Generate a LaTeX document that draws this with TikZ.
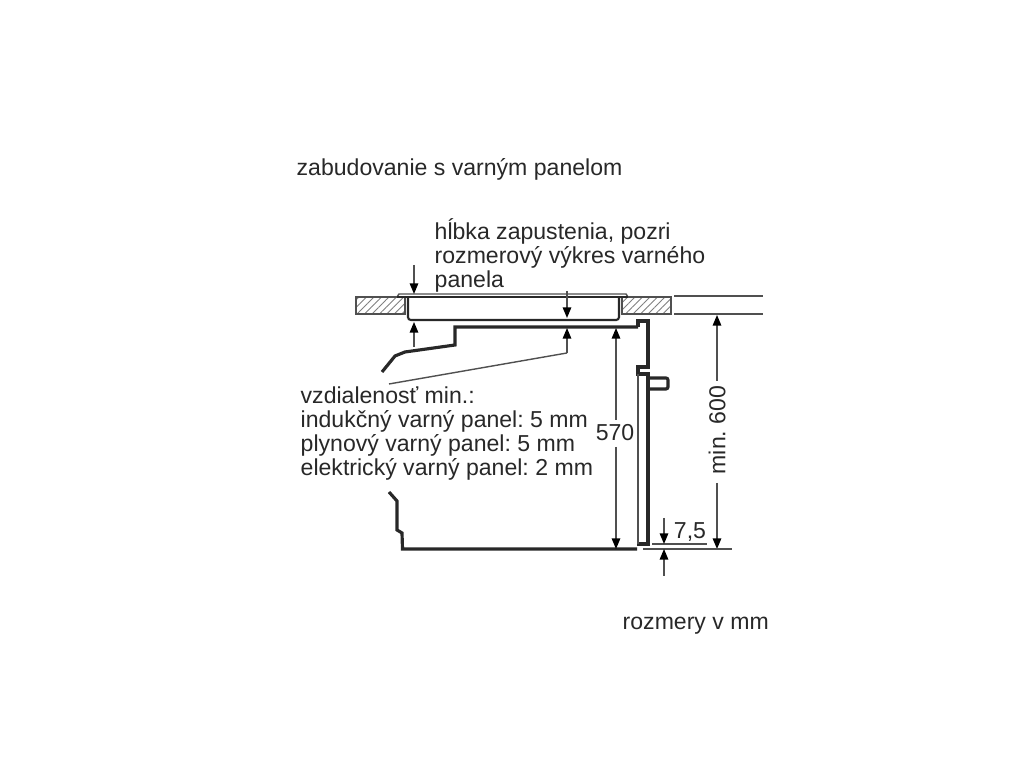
\documentclass[tikz,border=0pt]{standalone}
\usepackage{fontspec}
\setmainfont{Liberation Sans}
\usepackage{tikz}
\usetikzlibrary{arrows.meta,patterns.meta}
\definecolor{ink}{RGB}{40,40,40}
\definecolor{dimgrey}{RGB}{80,80,80}
\newcommand{\drawthick}{\draw[ink,line width=0.9pt]}
\newcommand{\drawmedium}{\draw[ink,line width=0.6pt]}
\newcommand{\drawthin}{\draw[dimgrey,line width=0.4pt]}
\newcommand{\drawdim}{\draw[dimgrey,line width=0.4pt,-{Triangle[black,length=3pt,width=2.4pt]}]}
\newcommand{\hatchbox}[4]{
    \fill[pattern={Lines[angle=45,distance=1.5pt,line width=0.25pt]},pattern color=gray] (#1,#2) rectangle (#3,#4);
    \draw[dimgrey,line width=0.4pt] (#1,#2) rectangle (#3,#4);
}
\tikzset{
  caption/.style={font=\fontsize{6.56}{6.8}\selectfont\frenchspacing,text=ink,inner sep=0pt,align=left},
}
\begin{document}
\begin{tikzpicture}[x=0.01cm,y=-0.01cm]
\useasboundingbox (0,0) rectangle (1024,768);
\fill[white] (0,0) rectangle (1024,768);
% worktop
\hatchbox{356}{297}{405}{314}
\hatchbox{622}{297}{671}{314}
\drawthin (674,296)--(763,296);
\drawthin (674,314)--(763,314);
% hob
\drawthin (397,297)--(399,294)--(626,294)--(628,297);
\drawmedium (397,297)--(628,297);
\drawmedium[rounded corners=0.8pt] (408,297)--(408,320)--(619,320)--(619,297);
% oven
\drawthick (382,372)--(395,356)--(405,352)--(455,345)--(455,327)--(638,327);
\drawthick (389,492)--(397,501)--(397,530)--(402,533)--(402.5,549)--(637,549);
\drawthick (638,327)--(638,321)--(648,321)--(648,367)--(638,367)--(638,374)--(648,374)--(648,544)--(637,544);
\drawthin (638,374)--(638,544);
\drawthick[rounded corners=0.6pt] (648,378)--(668,378)--(668,389)--(648,389);
% dimensions
\drawdim (414,265)--(414,294);
\drawdim (414,347)--(414,322);
\drawdim (567,291)--(567,318);
\drawdim (567,353)--(567,328);
\drawthin (567,353)--(389,384);
\drawdim (616,420)--(616,328);
\drawdim (616,447)--(616,549);
\drawdim (717,381)--(717,315);
\drawdim (717,483)--(717,549);
\drawthin (643,549)--(732,549);
\drawthin (652,544)--(707,544);
\drawdim (664,518)--(664,544);
\drawdim (664,576)--(664,549);
% texts
\node[caption,anchor=west] (title) at (296,169) {zabudovanie s varným panelom};
\node[caption,anchor=north west] (depth) at (434,218) {hĺbka zapustenia, pozri\\rozmerový výkres varného\\panela};
\node[caption,anchor=north west] (gap) at (300,386) {vzdialenosť min.:\\indukčný varný panel: 5 mm\\plynový varný panel: 5 mm\\elektrický varný panel: 2 mm};
\node[caption] (h570) at (615,433) {570};
\node[caption,rotate=90] (h600) at (717,430) {min. 600};
\node[caption] (d75) at (690,532) {7,5};
\node[caption,anchor=west] (units) at (622,626) {rozmery v mm};
\end{tikzpicture}
\end{document}
